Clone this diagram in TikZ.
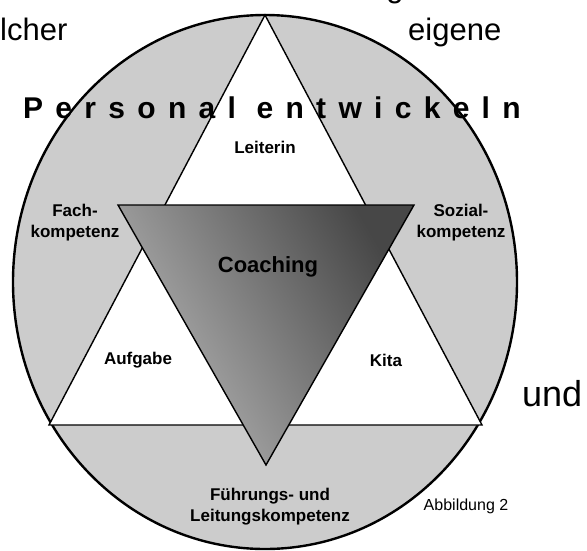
\documentclass[tikz,border=0pt]{standalone}
\usepackage{fontspec}
\setmainfont{Liberation Sans}
\tikzset{
  ring/.style={draw=black, line width=2.4pt, fill=black!20},
  inner/.style={draw=black, line width=1.4pt, fill=white, line join=miter},
  coach/.style={draw=black, line width=1.4pt, top color=black!28, bottom color=black!72, shading angle=120},
  lbl/.style={font=\fontsize{17}{21}\selectfont\bfseries, align=center, inner sep=0pt},
  bgtext/.style={font=\fontsize{31}{36}\selectfont, inner sep=0pt},
  note/.style={font=\fontsize{16}{19}\selectfont, inner sep=0pt}
}

\begin{document}
\begin{tikzpicture}[x=1pt, y=-1pt]
  \useasboundingbox (0,0) rectangle (587,550);

  % outer ring
  \coordinate (ctr) at (265,282);
  \draw[ring] (ctr) ellipse [x radius=252pt, y radius=267pt];

  % upright triangle
  \coordinate (apex) at (265,15);
  \coordinate (bl) at (49,425);
  \coordinate (br) at (482,425);
  \draw[inner] (bl) -- (apex) -- (br) -- cycle;

  % inverted triangle
  \coordinate (tl) at (118,205);
  \coordinate (tr) at (414,205);
  \coordinate (tip) at (266,465);
  \shade[coach] (tl) -- (tr) -- (tip) -- cycle;

  % labels
  \node[lbl] (leiterin) at (265,147) {Leiterin};
  \node[lbl, font=\fontsize{22}{26}\selectfont\bfseries] (coaching) at (268,267) {Coaching};
  \node[lbl] (fach) at (75,223) {Fach-\\kompetenz};
  \node[lbl] (sozial) at (461,223) {Sozial-\\kompetenz};
  \node[lbl] (aufgabe) at (138,360) {Aufgabe};
  \node[lbl] (kita) at (386,360) {Kita};
  \node[lbl] (fuehrung) at (270,507) {Führungs- und\\Leitungskompetenz};
  \node[note] (abb) at (466,506) {Abbildung 2};

  % title across the ring
  \node[inner sep=0pt, anchor=base west, font=\fontsize{30}{33}\selectfont\bfseries\addfontfeature{LetterSpace=41}] (title) at (23,118) {Personal entwickeln};

  % text of the page behind
  \node[bgtext, anchor=base west] (w1) at (0,40) {lcher};
  \node[bgtext, anchor=base west] (w2) at (408,40) {eigene};
  \node[bgtext, anchor=base west, font=\fontsize{36}{40}\selectfont] (w3) at (522,406) {und};
  \node[bgtext, anchor=base] (w4) at (395,-3) {g};
\end{tikzpicture}
\end{document}
